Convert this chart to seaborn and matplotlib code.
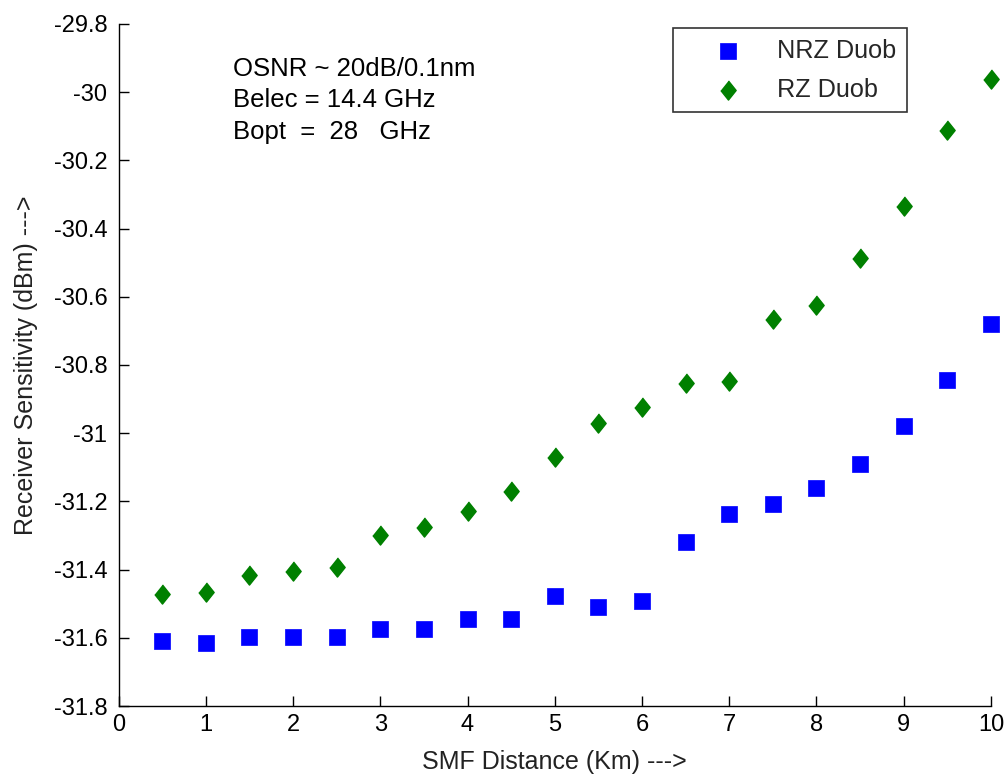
import numpy as np
import pandas as pd
import matplotlib
matplotlib.use("Agg")
import matplotlib.pyplot as plt
import seaborn as sns

# SMF span lengths (km)
distance_km = [0.5, 1.0, 1.5, 2.0, 2.5, 3.0, 3.5, 4.0, 4.5, 5.0,
               5.5, 6.0, 6.5, 7.0, 7.5, 8.0, 8.5, 9.0, 9.5, 10.0]

# Receiver sensitivity (dBm)
nrz_duob = [-31.610, -31.616, -31.599, -31.599, -31.599, -31.575, -31.575, -31.546, -31.546, -31.476,
            -31.511, -31.493, -31.318, -31.236, -31.208, -31.161, -31.090, -30.979, -30.844, -30.680]
rz_duob = [-31.473, -31.467, -31.415, -31.404, -31.391, -31.299, -31.274, -31.228, -31.169, -31.071,
           -30.971, -30.924, -30.854, -30.847, -30.666, -30.625, -30.485, -30.334, -30.112, -29.960]

series_names = ["NRZ Duob", "RZ Duob"]

x_ticks = [0, 1, 2, 3, 4, 5, 6, 7, 8, 9, 10]
y_ticks = [-29.8, -30.0, -30.2, -30.4, -30.6, -30.8, -31.0, -31.2, -31.4, -31.6, -31.8]
y_tick_labels = ["-29.8", "-30", "-30.2", "-30.4", "-30.6", "-30.8",
                 "-31", "-31.2", "-31.4", "-31.6", "-31.8"]

note_lines = ["OSNR ~ 20dB/0.1nm", "Belec = 14.4 GHz", "Bopt  =  28   GHz"]

sns.set_theme(style="white")
plt.rcParams["font.family"] = ["Liberation Sans", "DejaVu Sans"]
plt.rcParams["axes.unicode_minus"] = False

FS_TICK = 17
FS_LABEL = 18
FS_NOTE = 18.5
FS_LEG = 18.2

fig = plt.figure(figsize=(10.05, 7.76), dpi=100)
ax = fig.add_axes([0.118, 0.0902, 0.868, 0.8789])

df_nrz = pd.DataFrame({"x": distance_km, "y": nrz_duob})
df_rz = pd.DataFrame({"x": distance_km, "y": rz_duob})

diamond = [(0, 1), (0.8, 0), (0, -1), (-0.8, 0)]

sns.scatterplot(data=df_nrz, x="x", y="y", ax=ax, marker="s", s=130,
                color=(0, 0, 1), edgecolor=(0, 0, 1), linewidth=0.5,
                label=series_names[0], zorder=3, clip_on=False)
sns.scatterplot(data=df_rz, x="x", y="y", ax=ax, marker=diamond, s=190,
                color=(0, 0.5, 0), edgecolor=(0, 0.5, 0), linewidth=1.0,
                label=series_names[1], zorder=3, clip_on=False)

ax.set_xlim(0, 10)
ax.set_ylim(-31.8, -29.8)
ax.set_xticks(x_ticks)
ax.set_xticklabels([str(t) for t in x_ticks])
ax.set_yticks(y_ticks)
ax.set_yticklabels(y_tick_labels)

for side in ["top", "right"]:
    ax.spines[side].set_visible(False)
for side in ["left", "bottom"]:
    ax.spines[side].set_color("black")
    ax.spines[side].set_linewidth(1.0)

ax.tick_params(axis="both", direction="in", length=7, width=1.0,
               colors="black", labelsize=FS_TICK, pad=6,
               left=True, bottom=True)
ax.tick_params(axis="y", pad=8)

ax.set_xlabel("SMF Distance (Km) --->", fontsize=FS_LABEL, color="#222222", labelpad=10)
ax.set_ylabel("Receiver Sensitivity (dBm) --->", fontsize=FS_LABEL, color="#222222", labelpad=11)

ax.text(0.131, 0.952, "\n".join(note_lines), transform=ax.transAxes,
        fontsize=FS_NOTE, va="top", ha="left", linespacing=1.4, color="black")

leg = ax.legend(loc="upper left", bbox_to_anchor=(0.6355, 0.994),
                borderaxespad=0, fontsize=FS_LEG, frameon=True, fancybox=False,
                handlelength=3.55, handletextpad=0.15, borderpad=0.42,
                labelspacing=0.6, scatterpoints=1)
leg.get_frame().set_edgecolor("black")
leg.get_frame().set_linewidth(1.2)

fig.savefig("out.png", dpi=100, facecolor="white")
